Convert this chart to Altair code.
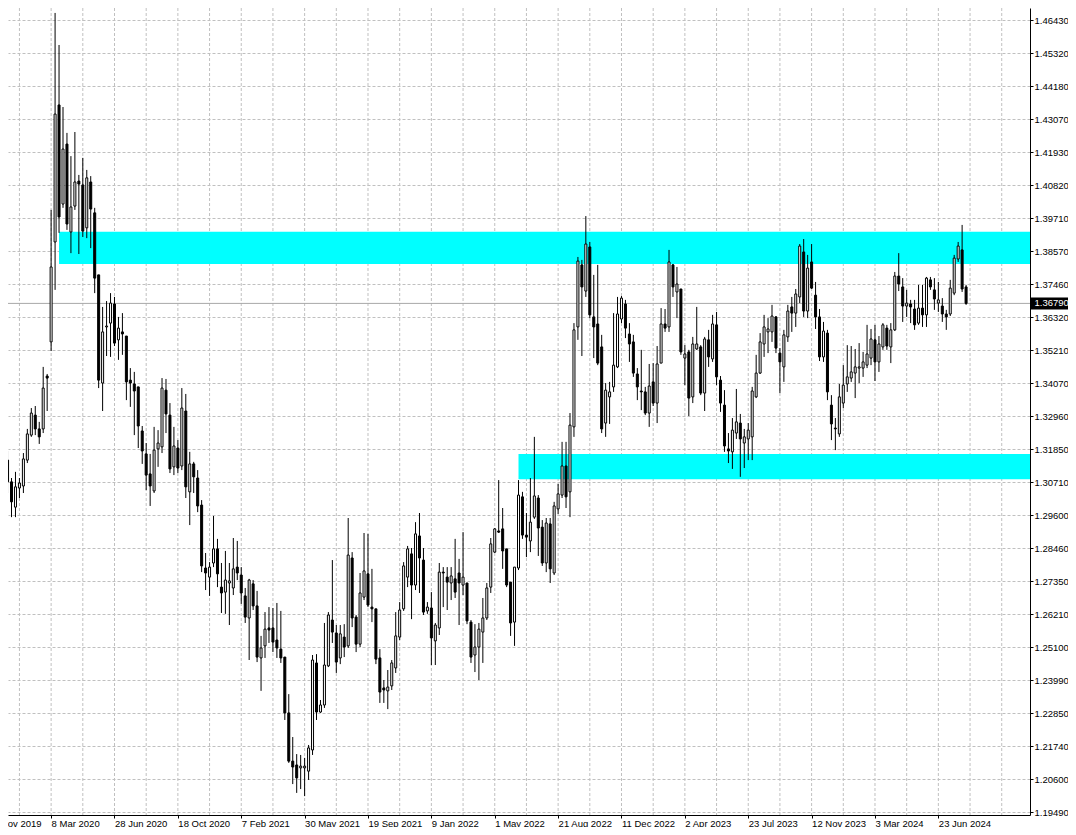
import altair as alt
import pandas as pd

# ---------------- data (weekly candles, first week starting 2019-12-22) ----------------
WEEK_START = "2019-12-22"

OPEN = [
    1.3146, 1.3072, 1.2986, 1.3051, 1.3058, 1.3146, 1.3231, 1.3299, 1.3252, 1.3252,
    1.3432, 1.3548, 1.3888, 1.4354, 1.4017, 1.4221, 1.3922, 1.4010, 1.4095, 1.4082,
    1.3936, 1.4092, 1.3987, 1.3776, 1.3408, 1.3599, 1.3612, 1.3677, 1.3555, 1.3582,
    1.3568, 1.3418, 1.3405, 1.3395, 1.3245, 1.3167, 1.3099, 1.3041, 1.3184, 1.3191,
    1.3384, 1.3299, 1.3123, 1.3187, 1.3126, 1.3313, 1.3038, 1.3133, 1.3085, 1.2993,
    1.2779, 1.2748, 1.2796, 1.2844, 1.2714, 1.2697, 1.2728, 1.2711, 1.2782, 1.2755,
    1.2684, 1.2609, 1.2725, 1.2650, 1.2473, 1.2514, 1.2575, 1.2575, 1.2534, 1.2503,
    1.2476, 1.2286, 1.2122, 1.2109, 1.2099, 1.2099, 1.2088, 1.2160, 1.2456, 1.2289,
    1.2313, 1.2446, 1.2602, 1.2558, 1.2473, 1.2544, 1.2514, 1.2813, 1.2612, 1.2520,
    1.2680, 1.2759, 1.2646, 1.2640, 1.2473, 1.2371, 1.2361, 1.2378, 1.2439, 1.2544,
    1.2640, 1.2748, 1.2827, 1.2721, 1.2888, 1.2806, 1.2633, 1.2643, 1.2531, 1.2575,
    1.2765, 1.2748, 1.2728, 1.2742, 1.2762, 1.2721, 1.2728, 1.2595, 1.2483, 1.2510,
    1.2561, 1.2609, 1.2714, 1.2833, 1.2905, 1.2912, 1.2844, 1.2731, 1.2595, 1.2779,
    1.3021, 1.2891, 1.2871, 1.2952, 1.3017, 1.2918, 1.2796, 1.2929, 1.2762, 1.2980,
    1.3027, 1.3126, 1.3038, 1.3259, 1.3599, 1.3810, 1.3721, 1.3871, 1.3633, 1.3609,
    1.3531, 1.3272, 1.3361, 1.3395, 1.3463, 1.3626, 1.3677, 1.3575, 1.3548, 1.3439,
    1.3381, 1.3378, 1.3306, 1.3412, 1.3340, 1.3476, 1.3609, 1.3599, 1.3810, 1.3718,
    1.3728, 1.3493, 1.3514, 1.3361, 1.3524, 1.3531, 1.3374, 1.3555, 1.3490, 1.3606,
    1.3418, 1.3333, 1.3184, 1.3174, 1.3238, 1.3272, 1.3204, 1.3218, 1.3225, 1.3361,
    1.3442, 1.3541, 1.3582, 1.3582, 1.3633, 1.3510, 1.3463, 1.3565, 1.3667, 1.3646,
    1.3701, 1.3854, 1.3653, 1.3820, 1.3707, 1.3633, 1.3497, 1.3578, 1.3333, 1.3255,
    1.3235, 1.3340, 1.3405, 1.3425, 1.3442, 1.3459, 1.3459, 1.3469, 1.3493, 1.3555,
    1.3480, 1.3531, 1.3595, 1.3531, 1.3589, 1.3772, 1.3735, 1.3670, 1.3677, 1.3660,
    1.3612, 1.3663, 1.3640, 1.3759, 1.3725, 1.3680, 1.3670, 1.3643, 1.3643, 1.3714,
    1.3830, 1.3861, 1.3735,
]
HIGH = [
    1.3177, 1.3085, 1.3106, 1.3085, 1.3170, 1.3252, 1.3323, 1.3330, 1.3276, 1.3463,
    1.3439, 1.3997, 1.4667, 1.4558, 1.4347, 1.4259, 1.4180, 1.4262, 1.4116, 1.4174,
    1.4133, 1.4112, 1.4004, 1.3776, 1.3667, 1.3687, 1.3714, 1.3701, 1.3633, 1.3646,
    1.3568, 1.3459, 1.3446, 1.3395, 1.3262, 1.3204, 1.3167, 1.3259, 1.3248, 1.3425,
    1.3422, 1.3340, 1.3259, 1.3214, 1.3391, 1.3371, 1.3174, 1.3140, 1.3112, 1.3010,
    1.2830, 1.2799, 1.2956, 1.2878, 1.2796, 1.2837, 1.2796, 1.2881, 1.2871, 1.2782,
    1.2711, 1.2742, 1.2738, 1.2701, 1.2548, 1.2629, 1.2646, 1.2643, 1.2660, 1.2633,
    1.2476, 1.2350, 1.2204, 1.2146, 1.2143, 1.2133, 1.2177, 1.2483, 1.2486, 1.2330,
    1.2592, 1.2629, 1.2806, 1.2585, 1.2585, 1.2588, 1.2949, 1.2833, 1.2619, 1.2762,
    1.2898, 1.2895, 1.2776, 1.2640, 1.2503, 1.2398, 1.2432, 1.2466, 1.2629, 1.2663,
    1.2799, 1.2854, 1.2847, 1.2935, 1.2966, 1.2847, 1.2663, 1.2697, 1.2592, 1.2796,
    1.2782, 1.2782, 1.2782, 1.2878, 1.2810, 1.2901, 1.2728, 1.2602, 1.2588, 1.2592,
    1.2677, 1.2728, 1.2881, 1.2915, 1.3078, 1.2983, 1.2844, 1.2731, 1.2782, 1.3078,
    1.3038, 1.2966, 1.3085, 1.3225, 1.3027, 1.2942, 1.2949, 1.2949, 1.3004, 1.3065,
    1.3208, 1.3208, 1.3306, 1.3612, 1.3837, 1.3827, 1.3976, 1.3888, 1.3776, 1.3810,
    1.3572, 1.3408, 1.3412, 1.3646, 1.3701, 1.3704, 1.3691, 1.3612, 1.3572, 1.3459,
    1.3521, 1.3395, 1.3473, 1.3476, 1.3534, 1.3663, 1.3660, 1.3861, 1.3813, 1.3803,
    1.3728, 1.3537, 1.3521, 1.3565, 1.3667, 1.3537, 1.3565, 1.3589, 1.3640, 1.3650,
    1.3432, 1.3384, 1.3238, 1.3289, 1.3388, 1.3303, 1.3252, 1.3272, 1.3395, 1.3504,
    1.3578, 1.3640, 1.3629, 1.3674, 1.3636, 1.3527, 1.3589, 1.3674, 1.3701, 1.3728,
    1.3881, 1.3898, 1.3844, 1.3881, 1.3752, 1.3660, 1.3616, 1.3589, 1.3367, 1.3289,
    1.3405, 1.3469, 1.3537, 1.3534, 1.3524, 1.3544, 1.3514, 1.3606, 1.3592, 1.3606,
    1.3568, 1.3612, 1.3606, 1.3612, 1.3786, 1.3850, 1.3765, 1.3725, 1.3691, 1.3691,
    1.3742, 1.3742, 1.3769, 1.3769, 1.3765, 1.3752, 1.3697, 1.3657, 1.3759, 1.3844,
    1.3888, 1.3946, 1.3742,
]
LOW = [
    1.3034, 1.2952, 1.2952, 1.3017, 1.3034, 1.3136, 1.3225, 1.3231, 1.3201, 1.3238,
    1.3313, 1.3517, 1.3725, 1.3919, 1.4004, 1.3929, 1.3850, 1.3997, 1.3847, 1.3905,
    1.3901, 1.3867, 1.3714, 1.3391, 1.3313, 1.3500, 1.3497, 1.3534, 1.3487, 1.3504,
    1.3350, 1.3327, 1.3231, 1.3187, 1.3133, 1.3044, 1.2990, 1.3034, 1.3123, 1.3170,
    1.3238, 1.3102, 1.3095, 1.3102, 1.3112, 1.3017, 1.2925, 1.3034, 1.2969, 1.2765,
    1.2704, 1.2684, 1.2782, 1.2714, 1.2626, 1.2623, 1.2585, 1.2687, 1.2738, 1.2657,
    1.2592, 1.2466, 1.2636, 1.2459, 1.2361, 1.2473, 1.2524, 1.2493, 1.2473, 1.2456,
    1.2262, 1.2116, 1.2044, 1.2014, 1.2027, 1.2003, 1.2058, 1.2143, 1.2262, 1.2286,
    1.2303, 1.2442, 1.2524, 1.2422, 1.2452, 1.2476, 1.2507, 1.2578, 1.2493, 1.2510,
    1.2670, 1.2646, 1.2595, 1.2452, 1.2320, 1.2320, 1.2299, 1.2364, 1.2422, 1.2534,
    1.2633, 1.2714, 1.2605, 1.2704, 1.2694, 1.2619, 1.2623, 1.2449, 1.2449, 1.2551,
    1.2646, 1.2636, 1.2670, 1.2677, 1.2585, 1.2687, 1.2588, 1.2456, 1.2425, 1.2398,
    1.2456, 1.2602, 1.2694, 1.2830, 1.2898, 1.2776, 1.2714, 1.2548, 1.2514, 1.2772,
    1.2878, 1.2816, 1.2833, 1.2946, 1.2820, 1.2786, 1.2765, 1.2728, 1.2755, 1.2963,
    1.3017, 1.2983, 1.2952, 1.3225, 1.3555, 1.3500, 1.3701, 1.3629, 1.3493, 1.3469,
    1.3238, 1.3225, 1.3269, 1.3378, 1.3459, 1.3612, 1.3561, 1.3480, 1.3429, 1.3350,
    1.3316, 1.3299, 1.3259, 1.3330, 1.3272, 1.3476, 1.3582, 1.3582, 1.3701, 1.3629,
    1.3504, 1.3401, 1.3296, 1.3340, 1.3521, 1.3367, 1.3313, 1.3463, 1.3480, 1.3401,
    1.3310, 1.3174, 1.3136, 1.3116, 1.3218, 1.3089, 1.3119, 1.3146, 1.3146, 1.3357,
    1.3439, 1.3497, 1.3510, 1.3548, 1.3510, 1.3374, 1.3412, 1.3548, 1.3582, 1.3599,
    1.3680, 1.3633, 1.3629, 1.3728, 1.3592, 1.3483, 1.3480, 1.3350, 1.3214, 1.3180,
    1.3225, 1.3323, 1.3378, 1.3412, 1.3357, 1.3408, 1.3429, 1.3459, 1.3469, 1.3415,
    1.3446, 1.3521, 1.3521, 1.3476, 1.3585, 1.3721, 1.3616, 1.3633, 1.3612, 1.3589,
    1.3606, 1.3599, 1.3599, 1.3725, 1.3657, 1.3650, 1.3616, 1.3589, 1.3636, 1.3707,
    1.3820, 1.3718, 1.3674,
]
CLOSE = [
    1.3072, 1.3004, 1.3055, 1.3068, 1.3150, 1.3235, 1.3306, 1.3252, 1.3225, 1.3391,
    1.3425, 1.3803, 1.4323, 1.3973, 1.4204, 1.3949, 1.4007, 1.4092, 1.4085, 1.3925,
    1.4106, 1.4000, 1.3765, 1.3418, 1.3582, 1.3602, 1.3680, 1.3544, 1.3595, 1.3575,
    1.3412, 1.3408, 1.3381, 1.3262, 1.3177, 1.3095, 1.3058, 1.3180, 1.3204, 1.3391,
    1.3303, 1.3116, 1.3194, 1.3119, 1.3323, 1.3055, 1.3133, 1.3089, 1.2990, 1.2786,
    1.2762, 1.2782, 1.2844, 1.2759, 1.2694, 1.2738, 1.2735, 1.2776, 1.2762, 1.2694,
    1.2612, 1.2738, 1.2650, 1.2476, 1.2507, 1.2571, 1.2568, 1.2527, 1.2507, 1.2473,
    1.2286, 1.2122, 1.2102, 1.2065, 1.2105, 1.2105, 1.2167, 1.2466, 1.2289, 1.2313,
    1.2449, 1.2619, 1.2561, 1.2459, 1.2555, 1.2510, 1.2823, 1.2609, 1.2520, 1.2694,
    1.2769, 1.2653, 1.2640, 1.2469, 1.2357, 1.2364, 1.2374, 1.2456, 1.2548, 1.2636,
    1.2786, 1.2844, 1.2721, 1.2895, 1.2813, 1.2629, 1.2646, 1.2541, 1.2585, 1.2765,
    1.2762, 1.2731, 1.2752, 1.2697, 1.2728, 1.2748, 1.2599, 1.2476, 1.2510, 1.2571,
    1.2609, 1.2711, 1.2861, 1.2912, 1.2901, 1.2837, 1.2721, 1.2592, 1.2782, 1.3027,
    1.2891, 1.2884, 1.2935, 1.3024, 1.2915, 1.2796, 1.2932, 1.2776, 1.2990, 1.3031,
    1.3126, 1.3021, 1.3265, 1.3589, 1.3823, 1.3735, 1.3881, 1.3640, 1.3599, 1.3476,
    1.3252, 1.3384, 1.3378, 1.3469, 1.3643, 1.3697, 1.3595, 1.3541, 1.3442, 1.3395,
    1.3378, 1.3306, 1.3398, 1.3340, 1.3473, 1.3609, 1.3595, 1.3820, 1.3735, 1.3745,
    1.3514, 1.3507, 1.3357, 1.3541, 1.3541, 1.3374, 1.3558, 1.3497, 1.3609, 1.3429,
    1.3340, 1.3194, 1.3177, 1.3248, 1.3276, 1.3218, 1.3225, 1.3248, 1.3381, 1.3442,
    1.3548, 1.3599, 1.3592, 1.3636, 1.3527, 1.3480, 1.3572, 1.3653, 1.3646, 1.3711,
    1.3874, 1.3653, 1.3799, 1.3731, 1.3633, 1.3497, 1.3585, 1.3378, 1.3269, 1.3252,
    1.3361, 1.3401, 1.3429, 1.3446, 1.3463, 1.3463, 1.3480, 1.3507, 1.3558, 1.3480,
    1.3541, 1.3606, 1.3534, 1.3589, 1.3772, 1.3745, 1.3670, 1.3680, 1.3667, 1.3606,
    1.3663, 1.3640, 1.3765, 1.3735, 1.3694, 1.3691, 1.3643, 1.3633, 1.3731, 1.3833,
    1.3874, 1.3728, 1.3679,
]

X_TICK_DATES = [
    "2019-11-17", "2020-03-08", "2020-06-28", "2020-10-18", "2021-02-07",
    "2021-05-30", "2021-09-19", "2022-01-09", "2022-05-01", "2022-08-21",
    "2022-12-11", "2023-04-02", "2023-07-23", "2023-11-12", "2024-03-03",
    "2024-06-23",
]
Y_TICK_LABELS = [
    "1.46430", "1.45320", "1.44180", "1.43070", "1.41930", "1.40820", "1.39710",
    "1.38570", "1.37460", "1.36320", "1.35210", "1.34070", "1.32960", "1.31850",
    "1.30710", "1.29600", "1.28460", "1.27350", "1.26210", "1.25100", "1.23990",
    "1.22850", "1.21740", "1.20600", "1.19490",
]
ZONE_START = ["2020-03-22", "2022-06-12"]
ZONE_END = ["2025-06-01", "2025-06-01"]
ZONE_LOW = [1.3813, 1.3081]
ZONE_HIGH = [1.3923, 1.3167]
CURRENT_PRICE = CLOSE[-1]

# ---------------- layout ----------------
W, H = 1022, 807          # plot area; whole svg = 1060 x 819 so the page never overflows
PAD_RIGHT, PAD_BOTTOM = 38, 12
FONT = "Liberation Sans"
FS = 9.5
PX_PER_WEEK = 4.0
Y_TOP, Y_STEP, Y_STEP_PX = 1.4643, 0.011225, 33.0
PRICE_PER_PX = Y_STEP / Y_STEP_PX
TOP_GRID_ROW = 12

t0 = pd.Timestamp(WEEK_START, tz="UTC")


def ms(ts):
    return int(ts.timestamp() * 1000)


x_domain = [ms(t0 + pd.Timedelta(weeks=5.5 / PX_PER_WEEK)),
            ms(t0 + pd.Timedelta(weeks=(W + 5.5) / PX_PER_WEEK))]
y_domain = [Y_TOP - (H - TOP_GRID_ROW) * PRICE_PER_PX, Y_TOP + TOP_GRID_ROW * PRICE_PER_PX]

dates = pd.date_range(WEEK_START, periods=len(OPEN), freq="7D")
df = pd.DataFrame({
    "date": dates.strftime("%Y-%m-%d"),
    "open": OPEN, "high": HIGH, "low": LOW, "close": CLOSE,
})

grid_dates = pd.date_range("2020-01-12", periods=32, freq="56D")
grid_df = pd.DataFrame({"gdate": grid_dates.strftime("%Y-%m-%d")})

zones_df = pd.DataFrame({"start": ZONE_START, "end": ZONE_END, "lo": ZONE_LOW, "hi": ZONE_HIGH})
price_df = pd.DataFrame({"price": [CURRENT_PRICE], "label": [f"{CURRENT_PRICE:.5f}"]})

tick_ts = [pd.Timestamp(d) for d in X_TICK_DATES]
x_axis = alt.Axis(
    values=[alt.DateTime(year=d.year, month=d.month, date=d.day, utc=True) for d in tick_ts],
    labelExpr="utcFormat(datum.value, '%-d %b %Y')",
    labelAlign="left", labelBaseline="top", labelPadding=0,
    labelFlush=False, labelOverlap=False, labelBound=False,
    tickSize=3, tickColor="black", domainColor="black", grid=False,
    labelFont=FONT, labelFontSize=FS, labelColor="black",
)
y_values = [round(Y_TOP - i * Y_STEP, 6) for i in range(len(Y_TICK_LABELS))]
label_expr = ("[" + ",".join(f"'{s}'" for s in Y_TICK_LABELS) + "]"
              + f"[round(({Y_TOP} - datum.value) / {Y_STEP})]")
y_axis = alt.Axis(
    orient="right", values=y_values, labelExpr=label_expr,
    grid=True, gridColor="#c0c0c0", gridDash=[3, 2], gridWidth=1,
    tickSize=3, tickColor="black", domainColor="black", labelPadding=1,
    labelFont=FONT, labelFontSize=FS, labelColor="black",
    labelOverlap=False, labelBound=False, labelFlush=False,
)
x_scale = alt.Scale(type="utc", domain=x_domain, nice=False)
y_scale = alt.Scale(domain=y_domain, nice=False, zero=False)


def X(field):
    return alt.X(f"{field}:T", scale=x_scale, axis=x_axis, title=None)


def Y(field):
    return alt.Y(f"{field}:Q", scale=y_scale, axis=y_axis, title=None)


vgrid = alt.Chart(grid_df).mark_rule(color="#c0c0c0", strokeDash=[3, 2], strokeWidth=1).encode(
    x=X("gdate"))

zones = alt.Chart(zones_df).mark_rect(color="#00FFFF", clip=True).encode(
    x=X("start"), x2="end:T", y=Y("lo"), y2="hi:Q")

price_line = alt.Chart(price_df).mark_rule(color="#a8a8a8", strokeWidth=1).encode(y=Y("price"))

base = alt.Chart(df)
wicks = base.mark_rule(color="black", strokeWidth=1).encode(
    x=X("date"), y=Y("low"), y2="high:Q")
bodies = base.mark_bar(size=2, stroke="black", strokeWidth=1).encode(
    x=X("date"), y=Y("open"), y2="close:Q",
    fill=alt.condition("datum.close >= datum.open", alt.value("white"), alt.value("black")),
)

price_box = alt.Chart(price_df).mark_rect(color="black", yOffset=-6, y2Offset=6).encode(
    x=alt.value(W + 1), x2=alt.value(W + PAD_RIGHT), y=Y("price"), y2="price:Q")
price_text = alt.Chart(price_df).mark_text(
    align="left", baseline="middle", color="white", font=FONT, fontSize=FS).encode(
    x=alt.value(W + 4.5), y=Y("price"), text="label:N")

# the first date label sits left of the plot edge (only its tail shows): draw it as text
first_label_df = pd.DataFrame({"d": [X_TICK_DATES[0]],
                               "label": [tick_ts[0].strftime("%-d %b %Y")]})
first_label = alt.Chart(first_label_df).mark_text(
    align="left", baseline="top", color="black", font=FONT, fontSize=FS, dy=3.5).encode(
    x=X("d"), y=alt.value(H), text="label:N")

chart = alt.layer(vgrid, zones, price_line, wicks, bodies, price_box, price_text,
                  first_label).properties(
    width=W, height=H,
    padding={"left": 0, "top": 0, "right": PAD_RIGHT, "bottom": PAD_BOTTOM},
    autosize=alt.AutoSizeParams(type="none"),
    background="white",
).configure_view(strokeWidth=0)

chart.save("out.html", embed_options={"renderer": "svg", "actions": False})
